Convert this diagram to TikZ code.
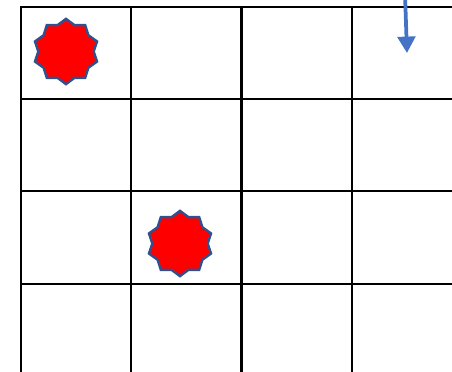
\documentclass[tikz,border=0pt]{standalone}
\usepackage{tikz}
\usetikzlibrary{shapes.geometric, arrows.meta}
\definecolor{markRed}{RGB}{255, 0, 0}
\definecolor{markEdge}{RGB}{47, 82, 143}
\definecolor{arrowBlue}{RGB}{68, 114, 196}

\begin{document}
\begin{tikzpicture}[
				x=0.03cm, y=-0.03cm,
				gridline/.style  = {draw=black, line width=2.4pt},
				starmark/.style  = {star, star points=10, star point ratio=1.18, draw=markEdge,
					line width=2pt, fill=markRed, minimum size=1.96cm, inner sep=0pt},
				moveline/.style  = {draw=arrowBlue, line width=3.2pt,
					-{Triangle[length=14pt, width=15pt]}}
				]
				\useasboundingbox (0,0) rectangle (452,372);
				\clip (0,0) rectangle (452,372);
				
				% grid
				\foreach \gx in {21, 131, 241.5, 352}
				\draw[gridline] (\gx,7) -- (\gx,380);
				\foreach \gy in {7, 99, 191, 284}
				\draw[gridline] (20,\gy) -- (460,\gy);
				
				\node[starmark] (star_a) at (66,51.5) {};
				\node[starmark] (star_b) at (180,243.5) {};
				
				\coordinate (move_from) at (405,-6);
				\coordinate (move_to) at (407,53);
				\draw[moveline] (move_from) -- (move_to);
			\end{tikzpicture}
\end{document}
